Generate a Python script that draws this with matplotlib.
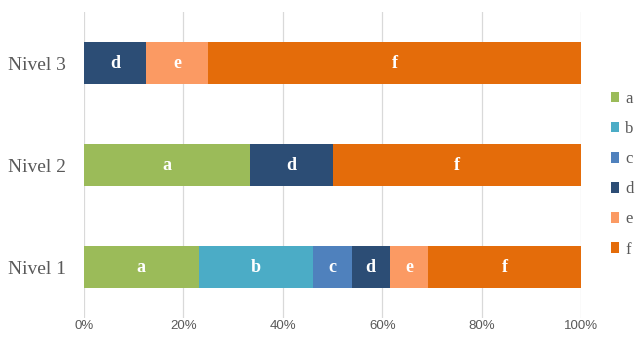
import matplotlib
matplotlib.use("Agg")
import matplotlib.pyplot as plt
from matplotlib.patches import Patch
import numpy as np

categories = ["Nivel 1", "Nivel 2", "Nivel 3"]
series = ["a", "b", "c", "d", "e", "f"]
colors = ["#9BBB59", "#4BACC6", "#4F81BD", "#2C4D75", "#FB9A63", "#E46C0A"]
# percentages per level
a_vals = [23.08, 33.33, 0.0]
b_vals = [23.08, 0.0, 0.0]
c_vals = [7.69, 0.0, 0.0]
d_vals = [7.69, 16.67, 12.5]
e_vals = [7.69, 0.0, 12.5]
f_vals = [30.77, 50.0, 75.0]
xticks = [0, 20, 40, 60, 80, 100]
xtick_labels = ["0%", "20%", "40%", "60%", "80%", "100%"]

data = [a_vals, b_vals, c_vals, d_vals, e_vals, f_vals]

fig = plt.figure(figsize=(6.35, 3.45), dpi=100)
ax = fig.add_axes([84/635, 27/345, 497/635, 306/345])

y = np.arange(len(categories))
left = np.zeros(len(categories))
for name, vals, col in zip(series, data, colors):
    vals = np.array(vals)
    ax.barh(y, vals, left=left, height=0.405, color=col, zorder=3)
    for yi, (l, v) in enumerate(zip(left, vals)):
        if v > 0:
            ax.text(l + v/2, yi, name, ha="center", va="center", color="white",
                    fontsize=13, fontweight="bold", family="Liberation Serif", zorder=4)
    left += vals

ax.set_xlim(0, 100)
ax.set_ylim(-0.5, 2.5)
ax.set_xticks(xticks)
ax.set_xticklabels(xtick_labels, family="Liberation Sans", fontsize=9.5, color="#595959")
ax.set_yticks(y)
ax.set_yticklabels(categories, family="Liberation Serif", fontsize=14, color="#595959")
ax.tick_params(length=0, pad=13)
ax.tick_params(axis="x", pad=1.5)
ax.grid(axis="x", color="#D9D9D9", linewidth=0.9, zorder=0)
for s in ax.spines.values():
    s.set_visible(False)

handles = [Patch(facecolor=c, edgecolor="none") for c in colors]
leg = fig.legend(handles, series, loc="center left", bbox_to_anchor=(611/635, 0.495),
                 frameon=False, prop={"family": "Liberation Serif", "size": 12},
                 handlelength=0.5, handleheight=0.6, handletextpad=0.35, borderpad=0,
                 borderaxespad=0, labelspacing=0.85, labelcolor="#595959")

fig.savefig("out.png", dpi=100)
